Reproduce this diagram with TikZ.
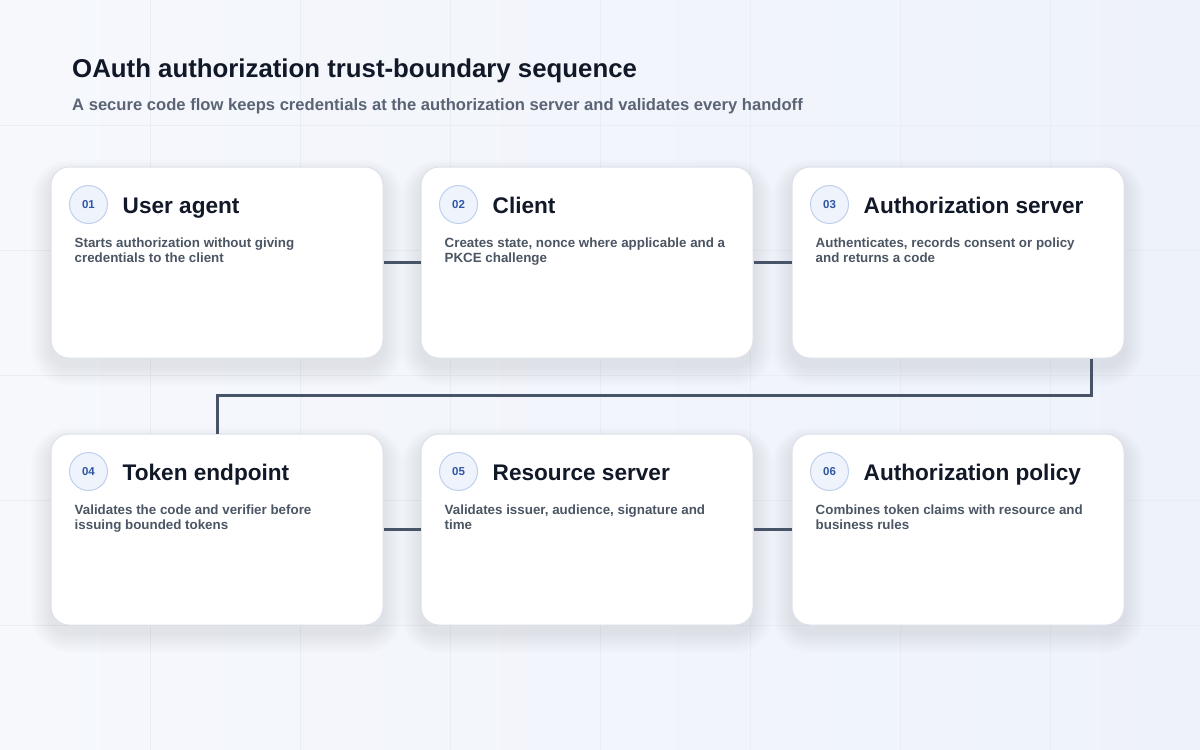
\documentclass[tikz,border=0pt]{standalone}
\usepackage{fontspec}
\setmainfont{Liberation Sans}
\definecolor{paper}{HTML}{F6F8FC}
\definecolor{paperb}{HTML}{EEF2FA}
\definecolor{gridline}{HTML}{E9EDF4}
\definecolor{ink}{HTML}{111827}
\definecolor{muted}{HTML}{5B6475}
\definecolor{bodytext}{HTML}{4B5563}
\definecolor{cardline}{HTML}{DCE1EA}
\definecolor{badgefill}{HTML}{EEF3FC}
\definecolor{badgeline}{HTML}{BFD0EE}
\definecolor{badgetext}{HTML}{2F56A3}
\definecolor{wire}{HTML}{475467}
\definecolor{haze}{HTML}{1E2B55}
\tikzstyle{card}=[draw=cardline, line width=1pt, fill=white, rounded corners=18pt,
    minimum width=332pt, minimum height=191pt, inner sep=0pt]
\tikzstyle{badge}=[circle, draw=badgeline, fill=badgefill, line width=1pt, minimum size=38pt,
    inner sep=0pt, text=badgetext, font=\bfseries\fontsize{11.5}{12}\selectfont]
\tikzstyle{heading}=[anchor=base west, inner sep=0pt, text=ink, font=\bfseries\fontsize{22.6}{24}\selectfont]
\tikzstyle{blurb}=[anchor=base west, inner sep=0pt, align=left, text=bodytext,
    font=\bfseries\fontsize{13.35}{15}\selectfont]
\tikzstyle{link}=[draw=wire, line width=3pt]
\providecommand{\card}{\node[card]}

\begin{document}
\begin{tikzpicture}[x=1pt, y=-1pt]
\useasboundingbox (0,0) rectangle (1200,750);
\shade[left color=paper, right color=paperb] (0,0) rectangle (1200,750);
\foreach \gx in {150,300,...,1050} \draw[gridline, line width=1pt] (\gx,0) -- (\gx,750);
\foreach \gy in {125,250,...,625} \draw[gridline, line width=1pt] (0,\gy) -- (1200,\gy);

\node[anchor=base west, inner sep=0pt, text=ink, font=\bfseries\fontsize{25.8}{28}\selectfont]
  (title) at (72,77) {OAuth authorization trust-boundary sequence};
\node[anchor=base west, inner sep=0pt, text=muted, font=\bfseries\fontsize{16.6}{18}\selectfont]
  (subtitle) at (72,110) {A secure code flow keeps credentials at the authorization server and validates every handoff};

% soft shadows under the cards
\foreach \cx/\cy in {217/262.5, 587/262.5, 958/262.5, 217/529.5, 587/529.5, 958/529.5}
  \foreach \s in {1,...,10}
    \fill[haze, opacity=0.008, rounded corners={18+2*\s}]
      ({\cx-166-2*\s},{\cy-95.5-1.5*\s+8}) rectangle ({\cx+166+2*\s},{\cy+95.5+2*\s+8});

\card (c1) at (217,262.5) {};
\card (c2) at (587,262.5) {};
\card (c3) at (958,262.5) {};
\card (c4) at (217,529.5) {};
\card (c5) at (587,529.5) {};
\card (c6) at (958,529.5) {};

% connectors
\coordinate (turn) at (1091,395);
\path[link] (c1.east) -- (c2.west);
\path[link] (c2.east) -- (c3.west);
\path[link] (c3.south -| turn) -- (turn) -| (c4.north);
\path[link] (c4.east) -- (c5.west);
\path[link] (c5.east) -- (c6.west);

\node[badge] (b1) at ([xshift=38pt,yshift=-38pt]c1.north west) {01};
\node[heading] (h1) at ([xshift=72pt,yshift=-46.5pt]c1.north west) {User agent};
\node[blurb] (t1) at ([xshift=24pt,yshift=-96pt]c1.north west) {Starts authorization without giving\\credentials to the client};

\node[badge] (b2) at ([xshift=38pt,yshift=-38pt]c2.north west) {02};
\node[heading] (h2) at ([xshift=72pt,yshift=-46.5pt]c2.north west) {Client};
\node[blurb] (t2) at ([xshift=24pt,yshift=-96pt]c2.north west) {Creates state, nonce where applicable and a\\PKCE challenge};

\node[badge] (b3) at ([xshift=38pt,yshift=-38pt]c3.north west) {03};
\node[heading] (h3) at ([xshift=72pt,yshift=-46.5pt]c3.north west) {Authorization server};
\node[blurb] (t3) at ([xshift=24pt,yshift=-96pt]c3.north west) {Authenticates, records consent or policy\\and returns a code};

\node[badge] (b4) at ([xshift=38pt,yshift=-38pt]c4.north west) {04};
\node[heading] (h4) at ([xshift=72pt,yshift=-46.5pt]c4.north west) {Token endpoint};
\node[blurb] (t4) at ([xshift=24pt,yshift=-96pt]c4.north west) {Validates the code and verifier before\\issuing bounded tokens};

\node[badge] (b5) at ([xshift=38pt,yshift=-38pt]c5.north west) {05};
\node[heading] (h5) at ([xshift=72pt,yshift=-46.5pt]c5.north west) {Resource server};
\node[blurb] (t5) at ([xshift=24pt,yshift=-96pt]c5.north west) {Validates issuer, audience, signature and\\time};

\node[badge] (b6) at ([xshift=38pt,yshift=-38pt]c6.north west) {06};
\node[heading] (h6) at ([xshift=72pt,yshift=-46.5pt]c6.north west) {Authorization policy};
\node[blurb] (t6) at ([xshift=24pt,yshift=-96pt]c6.north west) {Combines token claims with resource and\\business rules};
\end{tikzpicture}
\end{document}
